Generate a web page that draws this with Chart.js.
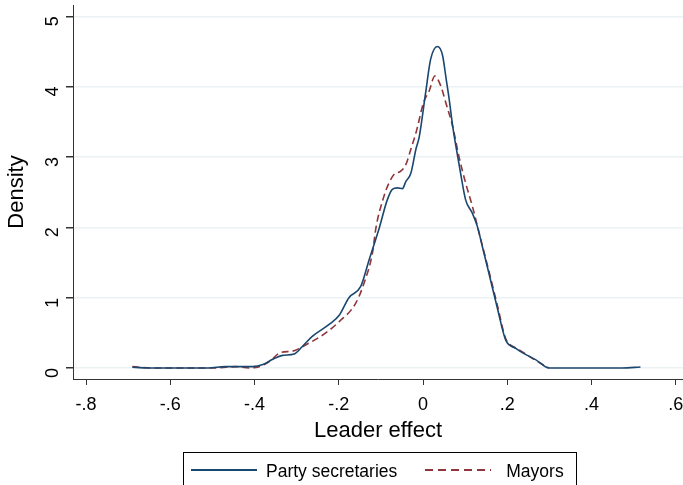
<!DOCTYPE html>
<html>
<head>
<meta charset="utf-8">
<script src="https://cdn.jsdelivr.net/npm/chart.js@4"></script>
<style>
  body { margin: 0; background: #fff; }
  #wrap { position: relative; width: 683px; height: 485px; overflow: hidden; }
  #chart { display: block; }
  #legend {
    position: absolute; left: 183px; top: 452px; width: 394px; height: 38px;
    border: 1px solid #000; box-sizing: border-box;
    font-family: "Liberation Sans", Arial, sans-serif; font-size: 17.5px; color: #000;
    display: flex; align-items: center;
  }
  .sw { display: inline-block; width: 66px; height: 2px; margin-left: 7px; margin-right: 9px; margin-bottom: 3px; }
</style>
</head>
<body>
<div id="wrap">
  <canvas id="chart" width="683" height="485"></canvas>
  <div id="legend"></div>
</div>
<script>
// leader effect grid + estimated densities
const secX = [-0.69, -0.64, -0.58, -0.51, -0.47, -0.44, -0.405, -0.38, -0.358, -0.334, -0.306, -0.286, -0.263, -0.223, -0.199, -0.176, -0.148, -0.128, -0.104, -0.085, -0.073, -0.061, -0.049, -0.041, -0.029, -0.017, -0.009, 0.006, 0.018, 0.034, 0.046, 0.055, 0.062, 0.070, 0.078, 0.089, 0.101, 0.117, 0.129, 0.141, 0.157, 0.176, 0.196, 0.220, 0.244, 0.267, 0.299, 0.35, 0.42, 0.473, 0.516];
const secY = [0.01, 0, 0, 0, 0.02, 0.02, 0.02, 0.05, 0.12, 0.18, 0.20, 0.31, 0.45, 0.62, 0.75, 1.0, 1.16, 1.54, 1.99, 2.39, 2.54, 2.56, 2.55, 2.65, 2.77, 3.11, 3.29, 3.91, 4.39, 4.57, 4.45, 4.1, 3.82, 3.45, 3.15, 2.77, 2.39, 2.20, 2.01, 1.72, 1.33, 0.86, 0.40, 0.28, 0.19, 0.12, 0, 0, 0, 0, 0.015];

const mayX = [-0.69, -0.64, -0.58, -0.51, -0.468, -0.444, -0.413, -0.389, -0.365, -0.338, -0.31, -0.278, -0.231, -0.199, -0.16, -0.14, -0.12, -0.112, -0.093, -0.081, -0.069, -0.053, -0.041, -0.029, -0.017, 0.002, 0.014, 0.028, 0.042, 0.054, 0.070, 0.085, 0.101, 0.117, 0.133, 0.157, 0.176, 0.196, 0.212, 0.225, 0.251, 0.275, 0.299];
const mayY = [0.02, 0, 0, 0, 0.01, 0.02, 0, 0.02, 0.09, 0.22, 0.24, 0.33, 0.50, 0.66, 0.92, 1.21, 1.64, 1.99, 2.44, 2.63, 2.75, 2.80, 2.89, 3.11, 3.34, 3.79, 3.93, 4.15, 4.01, 3.77, 3.44, 3.01, 2.63, 2.30, 1.92, 1.36, 0.9, 0.42, 0.31, 0.27, 0.17, 0.08, 0];

const xTicks = [-0.8, -0.6, -0.4, -0.2, 0, 0.2, 0.4, 0.6];
const yTicks = [0, 1, 2, 3, 4, 5];
const seriesNames = ['Party secretaries', 'Mayors'];
const seriesColors = ['#1a476f', '#90353b'];

const toPts = (xs, ys) => xs.map((x, i) => ({ x: x, y: ys[i] }));
const fmtX = v => {
  if (Math.abs(v) < 1e-9) return '0';
  return (v < 0 ? '-' : '') + String(Math.abs(v).toFixed(1)).replace(/^0/, '');
};
const font = 'Liberation Sans, Arial, sans-serif';

new Chart(document.getElementById('chart'), {
  type: 'line',
  data: {
    datasets: [{
      label: seriesNames[0],
      data: toPts(secX, secY),
      borderColor: seriesColors[0],
      borderWidth: 1.6,
      pointRadius: 0,
      cubicInterpolationMode: 'monotone'
    }, {
      label: seriesNames[1],
      data: toPts(mayX, mayY),
      borderColor: seriesColors[1],
      borderWidth: 1.6,
      borderDash: [7, 4],
      pointRadius: 0,
      cubicInterpolationMode: 'monotone'
    }]
  },
  options: {
    responsive: false,
    animation: false,
    layout: { padding: { top: 5, right: 0, left: 0, bottom: 37 } },
    plugins: { legend: { display: false }, tooltip: { enabled: false } },
    scales: {
      x: {
        type: 'linear',
        min: -0.831,
        max: 0.617,
        afterBuildTicks: s => { s.ticks = xTicks.map(v => ({ value: v })); },
        afterFit: s => { s.height = 69; s.paddingLeft = 0; s.paddingRight = 0; },
        border: { color: '#333', width: 1 },
        grid: { drawOnChartArea: false, tickLength: 6, tickColor: '#333' },
        ticks: { color: '#000', font: { family: font, size: 18 }, padding: 9, callback: v => fmtX(v) },
        title: { display: true, text: 'Leader effect', color: '#000', font: { family: font, size: 22 }, padding: { top: 4 } }
      },
      y: {
        min: -0.156,
        max: 5.16,
        afterBuildTicks: s => { s.ticks = yTicks.map(v => ({ value: v })); },
        afterFit: s => { s.width = 73; s.paddingTop = 0; s.paddingBottom = 0; },
        border: { color: '#333', width: 1 },
        grid: { color: '#eaf2f3', lineWidth: 1.5, tickLength: 7, tickColor: '#333' },
        ticks: { color: '#000', font: { family: font, size: 18 }, padding: 13, minRotation: 90, maxRotation: 90 },
        title: { display: true, text: 'Density', color: '#000', font: { family: font, size: 22 }, padding: { bottom: 0, top: 4 } }
      }
    }
  }
});

// HTML legend
const leg = document.getElementById('legend');
seriesNames.forEach((name, i) => {
  const sw = document.createElement('span');
  sw.className = 'sw';
  sw.style.background = i === 1
    ? 'repeating-linear-gradient(90deg, ' + seriesColors[i] + ' 0 8px, transparent 8px 13px)'
    : seriesColors[i];
  if (i === 1) { sw.style.marginLeft = '28px'; sw.style.marginRight = '15px'; }
  const t = document.createElement('span');
  t.textContent = name;
  leg.appendChild(sw);
  leg.appendChild(t);
});
</script>
</body>
</html>
